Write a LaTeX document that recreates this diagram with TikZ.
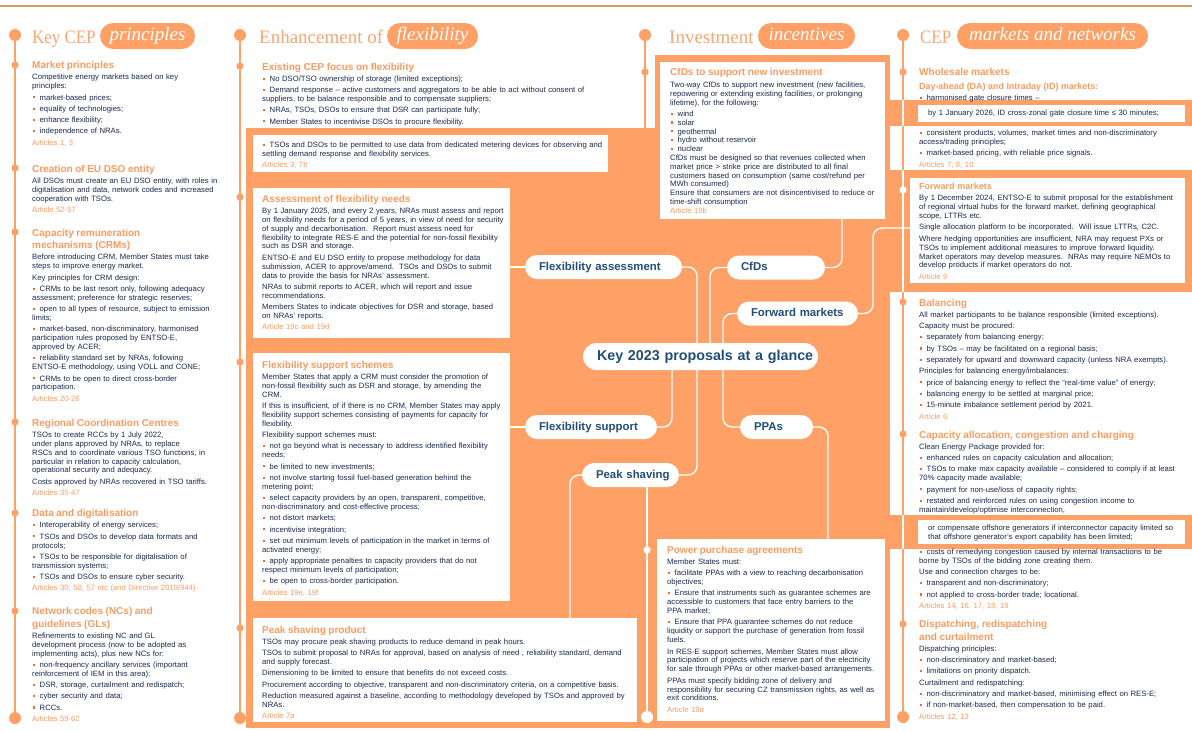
\documentclass[tikz,border=0pt]{standalone}
\usepackage{fontspec}
\setmainfont{Liberation Sans}
\newfontfamily\ttlserif{Liberation Serif}
\usetikzlibrary{calc}

\definecolor{peach}{RGB}{255,160,102}
\definecolor{headc}{RGB}{247,156,98}
\definecolor{ttlc}{RGB}{249,166,116}
\definecolor{bodyc}{RGB}{26,40,74}
\definecolor{pillc}{RGB}{33,78,120}
\definecolor{bulc}{RGB}{236,108,56}
\definecolor{rulec}{RGB}{206,160,104}

% section heading, sub-heading, bullet item, article reference
\newcommand\sechead[1]{{\fontsize{10}{12.5}\selectfont\bfseries\color{headc}#1\par}}
\newcommand\subhead[1]{{\fontsize{9}{10}\selectfont\bfseries\color{headc}#1\par}}
\newcommand\bitem[1]{\hangindent=7.5pt\hangafter=1\noindent\makebox[7.5pt][l]{\hspace{0.5pt}\textcolor{bulc}{\rule[1.7pt]{2.1pt}{2.1pt}}}#1\par}
\newcommand\artref[1]{{\color{headc}#1\par}}
% narrower capitals for the short column titles
\newcommand\narrow[1]{\scalebox{0.89}[1]{#1}}

% layers: panels at the back, links above them, pills and text on top
\pgfdeclarelayer{panels}
\pgfdeclarelayer{links}
\pgfsetlayers{panels,links,main}

\begin{document}
\begin{tikzpicture}[x=1pt,y=-1pt,
  sec/.style={anchor=base west, inner sep=0pt, text width=420pt, align=left,
    text=bodyc, font=\fontsize{7.7}{8.9}\selectfont,
    execute at begin node={\setlength{\parskip}{2.4pt}}},
  wbox/.style={fill=white, draw=none, inner sep=0pt, outer sep=0pt, anchor=north west},
  tl/.style={draw=peach, line width=1.6pt},
  tlw/.style={draw=white, line width=1.6pt},
  conn/.style={draw=white, line width=1.4pt, rounded corners=9pt},
  pill/.style={fill=white, rounded corners=12pt, inner xsep=14pt, inner ysep=0pt,
    minimum height=24pt, text width=#1, align=left, text=pillc,
    font=\fontsize{11.4}{12}\selectfont\bfseries, text height=8.5pt, text depth=2.5pt},
  keypill/.style={pill=#1, rounded corners=13.5pt, minimum height=27pt,
    font=\fontsize{14.3}{15}\selectfont\bfseries, text height=10.5pt, text depth=3pt},
  ttl/.style={anchor=base west, inner sep=0pt, text=ttlc, font=\ttlserif\fontsize{19}{20}\selectfont},
  tpill/.style={fill=peach, rounded corners=13pt, minimum height=26pt, inner sep=0pt,
    text=white, font=\ttlserif\itshape\fontsize{19}{20}\selectfont, text height=13pt, text depth=4pt},
]
\useasboundingbox (0,0) rectangle (1192,731);

\begin{pgfonlayer}{panels}
% page and top rule
\fill[white] (0,0) rectangle (1192,731);
\draw[rulec, line width=1.2pt] (0,6) -- (1192,6);

% timelines on white
\draw[tl] (15,35) -- (15,718);
\draw[tl] (240,35) -- (240,718);
\draw[tl] (645,35) -- (645,128);
\draw[tl] (903,35) -- (903,717);
\foreach \x/\y in {15/65,15/168,15/232,15/422,15/513,15/611,
  240/66,240/197,240/362,240/628,645/72,
  903/72,903/302,903/434,903/624}
  \fill[peach] (\x,\y) circle (3.6pt);
\foreach \x/\y in {15/35,15/718,240/35,240/718,645/35,903/35,903/717}
  \fill[peach] (\x,\y) circle (6pt);

% orange panels
\fill[peach] (246,128) rectangle (890,728);
\fill[peach] (655,55) rectangle (890,128);
\fill[peach] (890,100) rectangle (1192,126);
\fill[peach] (890,170) rectangle (1192,292);
\fill[peach] (890,515) rectangle (1192,549);

% timeline parts running over the panels
\begin{scope}
  \clip (890,100) rectangle (1192,126) (890,170) rectangle (1192,292) (890,515) rectangle (1192,549);
  \draw[tlw] (903,35) -- (903,717);
\end{scope}
\fill[white] (903,190) circle (3.6pt);
\draw[tlw] (647,480) -- (647,717);
\fill[white] (647,550) circle (3.6pt) (647,717) circle (6pt);

% white boxes
\node[wbox, minimum width=355pt, minimum height=37pt] (bxdata) at (253,135) {};
\node[wbox, minimum width=257pt, minimum height=150pt] (bxassess) at (253,188) {};
\node[wbox, minimum width=257pt, minimum height=248pt] (bxflex) at (253,353) {};
\node[wbox, minimum width=384pt, minimum height=104pt] (bxpeak) at (253,618) {};
\node[wbox, minimum width=225pt, minimum height=157pt] (bxcfd) at (660,62) {};
\node[wbox, minimum width=228pt, minimum height=182pt] (bxppa) at (657,539) {};
\node[wbox, minimum width=267pt, minimum height=17pt] (bxgate) at (918,105) {};
\node[wbox, minimum width=275pt, minimum height=105pt] (bxfm) at (910,178) {};
\node[wbox, minimum width=267pt, minimum height=24pt] (bxoff) at (918,520) {};
\end{pgfonlayer}

% pills
\node[pill=129pt] (fa) at (603.5,267) {\mbox{Flexibility assessment}};
\node[pill=70pt] (cfd) at (776,267.5) {\mbox{CfDs}};
\node[pill=93pt] (fm) at (797.5,313.5) {\mbox{Forward markets}};
\node[pill=104pt] (fs) at (591,427) {\mbox{Flexibility support}};
\node[pill=45pt] (ppa) at (776.5,427) {\mbox{PPAs}};
\node[pill=69pt] (ps) at (630.5,475) {\mbox{Peak shaving}};
\node[keypill=207pt] (key) at (700.5,356.5) {\mbox{Key 2023 proposals at a glance}};

% connector end points
\coordinate (keycfd) at (710,356);
\coordinate (keyfs) at (672,356);
\coordinate (psdrop) at (570,618);
\coordinate (cfddrop) at (842,219);
\coordinate (fmjoin) at (910,228);
\coordinate (ppadrop) at (828,539);

% connectors
\begin{pgfonlayer}{links}
\draw[conn] (fa.east) -| (697,475) -- (ps.east);
\draw[conn] (cfd.west) -| (keycfd);
\draw[conn] (fm.west) -| (723,427) -- (ppa.west);
\draw[conn] (keyfs) |- (fs.east);
\draw[conn] (fa.west) -- (fa.west -| bxassess.east);
\draw[conn] (fs.west) -- (fs.west -| bxflex.east);
\draw[conn] (ps.west) -| (psdrop);
\draw[conn] (cfd.east) -| (cfddrop);
\draw[conn] (fm.east) -| (873,228) -- (fmjoin);
\draw[conn] (ppa.east) -| (ppadrop);
\end{pgfonlayer}

% column titles
\node[ttl] (k1) at (32,43) {\narrow{Key CEP}};
\node[tpill, minimum width=95pt] (p1) at (147.5,36) {principles};
\node[ttl] (k2) at (259,43) {Enhancement of};
\node[tpill, minimum width=91pt] (p2) at (432.5,36) {flexibility};
\node[ttl] (k3) at (669,43) {Investment};
\node[tpill, minimum width=97pt] (p3) at (806.5,36) {incentives};
\node[ttl] (k4) at (920,43) {\narrow{CEP}};
\node[tpill, minimum width=191pt] (p4) at (1052.5,36) {markets and networks};

% ---- column 1
\node[sec] (mp) at (32,68.5) {\sechead{Market principles}
Competitive energy markets based on key\\principles:\par
\bitem{market-based prices;}
\bitem{equality of technologies;}
\bitem{enhance flexibility;}
\bitem{independence of NRAs.}
\artref{Articles 1, 3}};

\node[sec] (dso) at (32,172) {\sechead{Creation of EU DSO entity}
All DSOs must create an EU DSO entity, with roles in\\digitalisation and data, network codes and increased\\cooperation with TSOs.\par
\artref{Article 52-57}};

\node[sec] (crm) at (32,236) {\sechead{Capacity remuneration\\mechanisms (CRMs)}
Before introducing CRM, Member States must take\\steps to improve energy market.\par
Key principles for CRM design:\par
\bitem{CRMs to be last resort only, following adequacy\\assessment; preference for strategic reserves;}
\bitem{open to all types of resource, subject to emission\\limits;}
\bitem{market-based, non-discriminatory, harmonised\\participation rules proposed by ENTSO-E,\\approved by ACER;}
\bitem{reliability standard set by NRAs, following\\ENTSO-E methodology, using VOLL and CONE;}
\bitem{CRMs to be open to direct cross-border\\participation.}
\artref{Articles 20-26}};

\node[sec] (rcc) at (32,426) {\sechead{Regional Coordination Centres}
TSOs to create RCCs by 1 July 2022,\\under plans approved by NRAs, to replace\\RSCs and to coordinate various TSO functions, in\\particular in relation to capacity calculation,\\operational security and adequacy.\par
Costs approved by NRAs recovered in TSO tariffs.\par
\artref{Articles 35-47}};

\node[sec] (dig) at (32,516.5) {\sechead{Data and digitalisation}
\bitem{Interoperability of energy services;}
\bitem{TSOs and DSOs to develop data formats and\\protocols;}
\bitem{TSOs to be responsible for digitalisation of\\transmission systems;}
\bitem{TSOs and DSOs to ensure cyber security.}
\artref{Articles 30, 50, 57 etc (and Directive 2019/944)}};

\node[sec] (nc) at (32,614.5) {\sechead{Network codes (NCs) and\\guidelines (GLs)}
Refinements to existing NC and GL\\development process (now to be adopted as\\implementing acts), plus new NCs for:\par
\bitem{non-frequency ancillary services (important\\reinforcement of IEM in this area);}
\bitem{DSR, storage, curtailment and redispatch;}
\bitem{cyber security and data;}
\bitem{RCCs.}
\artref{Articles 59-62}};

% ---- column 2
\node[sec] (ex) at (262,70) {\sechead{Existing CEP focus on flexibility}
\bitem{No DSO/TSO ownership of storage (limited exceptions);}
\bitem{Demand response – active customers and aggregators to be able to act without consent of\\suppliers, to be balance responsible and to compensate suppliers;}
\bitem{NRAs, TSOs, DSOs to ensure that DSR can participate fully;}
\bitem{Member States to incentivise DSOs to procure flexibility.}};

\node[sec] (met) at (262,147.5) {\bitem{TSOs and DSOs to be permitted to use data from dedicated metering devices for observing and\\settling demand response and flexibility services.}
\artref{Articles 3, 7b}};

\node[sec] (asn) at (262,202) {\sechead{Assessment of flexibility needs}
By 1 January 2025, and every 2 years, NRAs must assess and report\\on flexibility needs for a period of 5 years, in view of need for security\\of supply and decarbonisation.\ \ Report must assess need for\\flexibility to integrate RES-E and the potential for non-fossil flexibility\\such as DSR and storage.\par
ENTSO-E and EU DSO entity to propose methodology for data\\submission, ACER to approve/amend.\ \ TSOs and DSOs to submit\\data to provide the basis for NRAs' assessment.\par
NRAs to submit reports to ACER, which will report and issue\\recommendations.\par
Members States to indicate objectives for DSR and storage, based\\on NRAs' reports.\par
\artref{Article 19c and 19d}};

\node[sec] (fss) at (262,368) {\sechead{Flexibility support schemes}
Member States that apply a CRM must consider the promotion of\\non-fossil flexibility such as DSR and storage, by amending the\\CRM.\par
If this is insufficient, of if there is no CRM, Member States may apply\\flexibility support schemes consisting of payments for capacity for\\flexibility.\par
Flexibility support schemes must:\par
\bitem{not go beyond what is necessary to address identified flexibility\\needs;}
\bitem{be limited to new investments;}
\bitem{not involve starting fossil fuel-based generation behind the\\metering point;}
\bitem{select capacity providers by an open, transparent, competitive,\\non-discriminatory and cost-effective process;}
\bitem{not distort markets;}
\bitem{incentivise integration;}
\bitem{set out minimum levels of participation in the market in terms of\\activated energy;}
\bitem{apply appropriate penalties to capacity providers that do not\\respect minimum levels of participation;}
\bitem{be open to cross-border participation.}
\artref{Articles 19e, 19f}};

\node[sec] (psp) at (262,633) {\sechead{Peak shaving product}
TSOs may procure peak shaving products to reduce demand in peak hours.\par
TSOs to submit proposal to NRAs for approval, based on analysis of need , reliability standard, demand\\and supply forecast.\par
Dimensioning to be limited to ensure that benefits do not exceed costs.\par
Procurement according to objective, transparent and non-discriminatory criteria, on a competitive basis.\par
Reduction measured against a baseline, according to methodology developed by TSOs and approved by\\NRAs.\par
\artref{Article 7a}};

% ---- column 3
\node[sec, font=\fontsize{7.7}{8.8}\selectfont] (cfdt) at (670,75.5) {\setlength{\parskip}{0pt}\sechead{CfDs to support new investment}\vspace{3.4pt}
Two-way CfDs to support new investment (new facilities,\\repowering or extending existing facilities, or prolonging\\lifetime), for the following:\par\vspace{2.3pt}
\bitem{wind}
\bitem{solar}
\bitem{geothermal}
\bitem{hydro without reservoir}
\bitem{nuclear}
CfDs must be designed so that revenues collected when\\market price > strike price are distributed to all final\\customers based on consumption (same cost/refund per\\MWh consumed)\par
Ensure that consumers are not disincentivised to reduce or\\time-shift consumption\par
\artref{Article 19b}};

\node[sec] (ppat) at (667,553) {\sechead{Power purchase agreements}
Member States must:\par
\bitem{facilitate PPAs with a view to reaching decarbonisation\\objectives;}
\bitem{Ensure that instruments such as guarantee schemes are\\accessible to customers that face entry barriers to the\\PPA market;}
\bitem{Ensure that PPA guarantee schemes do not reduce\\liquidity or support the purchase of generation from fossil\\fuels.}
In RES-E support schemes, Member States must allow\\participation of projects which reserve part of the electricity\\for sale through PPAs or other market-based arrangements.\par
PPAs must specify bidding zone of delivery and\\responsibility for securing CZ transmission rights, as well as\\exit conditions.\par
\artref{Article 19a}};

% ---- column 4
\node[sec] (wm) at (919,75.5) {\sechead{Wholesale markets}\vspace{1.4pt}
{\fontsize{8.9}{10}\selectfont\bfseries\color{headc}Day-ahead (DA) and Intraday (ID) markets:\par}
\bitem{harmonised gate closure times –}};
\node[sec] (gate) at (928,115.7) {by 1 January 2026, ID cross-zonal gate closure time ≤ 30 minutes;};
\node[sec] (wm2) at (919,135.7) {\bitem{consistent products, volumes, market times and non-discriminatory\\access/trading principles;}
\bitem{market-based pricing, with reliable price signals.}
\artref{Articles 7, 8, 10}};

\node[sec] (fwd) at (919,189.5) {\subhead{Forward markets}
By 1 December 2024, ENTSO-E to submit proposal for the establishment\\of regional virtual hubs for the forward market, defining geographical\\scope, LTTRs etc.\par
Single allocation platform to be incorporated.\ \ Will issue LTTRs, C2C.\par
Where hedging opportunities are insufficient, NRA may request PXs or\\TSOs to implement additional measures to improve forward liquidity.\\Market operators may develop measures.\ \ NRAs may require NEMOs to\\develop products if market operators do not.\par
\artref{Article 9}};

\node[sec] (bal) at (919,306) {\sechead{Balancing}
All market participants to be balance responsible (limited exceptions).\par
Capacity must be procured:\par
\bitem{separately from balancing energy;}
\bitem{by TSOs – may be facilitated on a regional basis;}
\bitem{separately for upward and downward capacity (unless NRA exempts).}
Principles for balancing energy/imbalances:\par
\bitem{price of balancing energy to reflect the “real-time value” of energy;}
\bitem{balancing energy to be settled at marginal price;}
\bitem{15-minute imbalance settlement period by 2021.}
\artref{Article 6}};

\node[sec] (cap) at (919,438) {\sechead{Capacity allocation, congestion and charging}
Clean Energy Package provided for:\par
\bitem{enhanced rules on capacity calculation and allocation;}
\bitem{TSOs to make max capacity available – considered to comply if at least\\70\% capacity made available;}
\bitem{payment for non-use/loss of capacity rights;}
\bitem{restated and reinforced rules on using congestion income to\\maintain/develop/optimise interconnection,}};
\node[sec] (off) at (928,530.4) {or compensate offshore generators if interconnector capacity limited so\\that offshore generator's export capability has been limited;};
\node[sec] (cap2) at (919,554.4) {\bitem{costs of remedying congestion caused by internal transactions to be\\borne by TSOs of the bidding zone creating them.}
Use and connection charges to be:\par
\bitem{transparent and non-discriminatory;}
\bitem{not applied to cross-border trade; locational.}
\artref{Articles 14, 16, 17, 18, 19}};

\node[sec] (dis) at (919,627.5) {\sechead{Dispatching, redispatching\\and curtailment}
Dispatching principles:\par
\bitem{non-discriminatory and market-based;}
\bitem{limitations on priority dispatch.}
Curtailment and redispatching:\par
\bitem{non-discriminatory and market-based, minimising effect on RES-E;}
\bitem{if non-market-based, then compensation to be paid.}
\artref{Articles 12, 13}};
\end{tikzpicture}
\end{document}
